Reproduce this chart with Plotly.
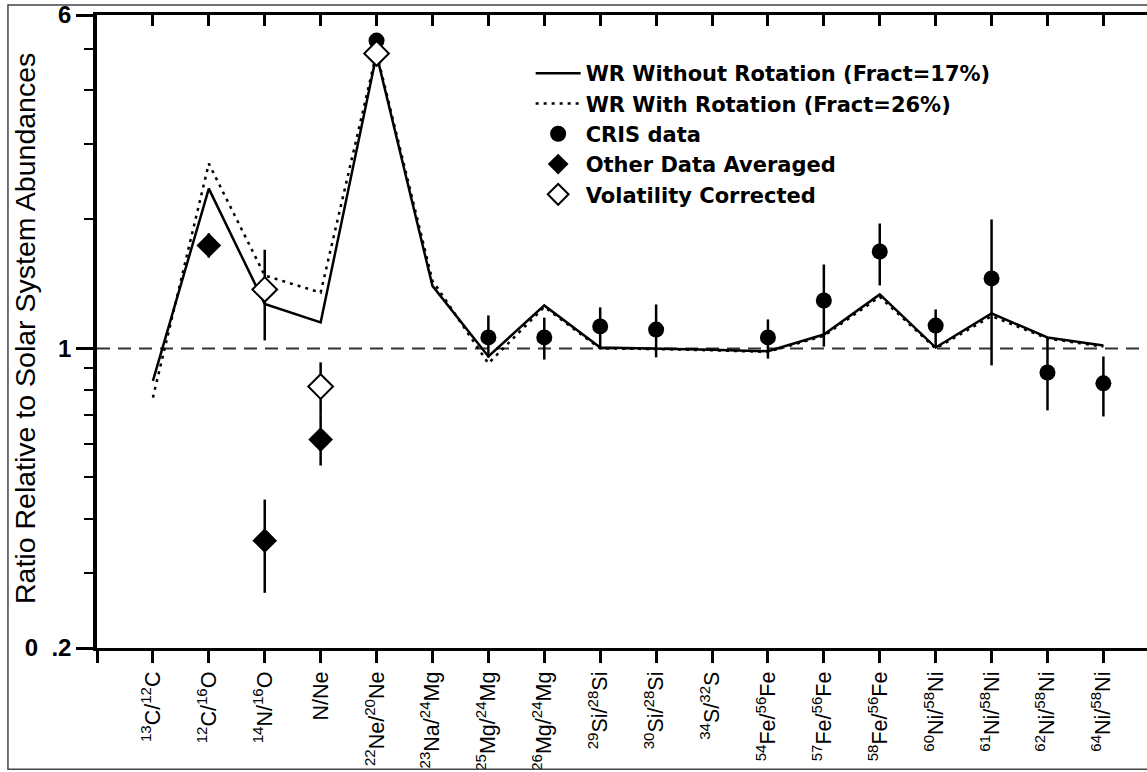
import math
import plotly.graph_objects as go

# ---------------- data ----------------
categories = [
    "<sup>13</sup>C/<sup>12</sup>C",
    "<sup>12</sup>C/<sup>16</sup>O",
    "<sup>14</sup>N/<sup>16</sup>O",
    "N/Ne",
    "<sup>22</sup>Ne/<sup>20</sup>Ne",
    "<sup>23</sup>Na/<sup>24</sup>Mg",
    "<sup>25</sup>Mg/<sup>24</sup>Mg",
    "<sup>26</sup>Mg/<sup>24</sup>Mg",
    "<sup>29</sup>Si/<sup>28</sup>Si",
    "<sup>30</sup>Si/<sup>28</sup>Si",
    "<sup>34</sup>S/<sup>32</sup>S",
    "<sup>54</sup>Fe/<sup>56</sup>Fe",
    "<sup>57</sup>Fe/<sup>56</sup>Fe",
    "<sup>58</sup>Fe/<sup>56</sup>Fe",
    "<sup>60</sup>Ni/<sup>58</sup>Ni",
    "<sup>61</sup>Ni/<sup>58</sup>Ni",
    "<sup>62</sup>Ni/<sup>58</sup>Ni",
    "<sup>64</sup>Ni/<sup>58</sup>Ni",
]
positions = list(range(1, len(categories) + 1))

wr_without_rotation = [0.84, 2.36, 1.27, 1.15, 4.85, 1.40, 0.958, 1.26, 1.005, 1.0,
                       0.993, 0.985, 1.078, 1.337, 1.005, 1.207, 1.061, 1.016]
wr_with_rotation = [0.768, 2.70, 1.48, 1.35, 4.90, 1.44, 0.923, 1.25, 1.0, 0.997,
                    0.99, 0.982, 1.07, 1.32, 1.0, 1.19, 1.055, 1.01]

cris_value = [None, None, None, None, 5.23, None, 1.061, 1.061, 1.126, 1.107,
              None, 1.061, 1.294, 1.684, 1.131, 1.457, 0.879, 0.829]
cris_upper = [None, None, None, None, 5.23, None, 1.194, 1.18, 1.247, 1.267,
              None, 1.169, 1.57, 1.957, 1.233, 2.0, 1.061, 0.958]
cris_lower = [None, None, None, None, 5.23, None, 0.953, 0.942, 1.005, 0.953,
              None, 0.947, 1.01, 1.403, 1.005, 0.913, 0.717, 0.694]

other_value = [None, 1.74, 0.356, 0.613] + [None] * 14
other_upper = [None, 1.856, 0.444, 0.70] + [None] * 14
other_lower = [None, 1.63, 0.269, 0.533] + [None] * 14

volat_value = [None, None, 1.373, 0.815, 4.88] + [None] * 13
volat_upper = [None, None, 1.70, 0.928, 4.88] + [None] * 13
volat_lower = [None, None, 1.044, 0.70, 4.88] + [None] * 13

y_tick_values = [0.2, 1, 6]
y_tick_labels = ["0\u00a0\u00a0.2", "1", "6"]
y_minor_values = [0.3, 0.4, 0.5, 0.6, 0.7, 0.8, 0.9, 2, 3, 4, 5]
reference_ratio = 1.0


def plus(v, u):
    return [(b - a) if a is not None else None for a, b in zip(v, u)]


def minus(v, l):
    return [(a - b) if a is not None else None for a, b in zip(v, l)]


FONT = "Liberation Sans, Arial, sans-serif"
LEGEND_FONT = "DejaVu Sans, Liberation Sans, sans-serif"

fig = go.Figure()

fig.add_trace(go.Scatter(
    x=positions, y=wr_without_rotation, mode="lines",
    name="WR Without Rotation (Fract=17%)",
    line=dict(color="black", width=2.5),
))
fig.add_trace(go.Scatter(
    x=positions, y=wr_with_rotation, mode="lines",
    name="WR With Rotation (Fract=26%)",
    line=dict(color="black", width=2.5, dash="3px,5px"),
))
fig.add_trace(go.Scatter(
    x=positions, y=cris_value, mode="markers", name="CRIS data",
    marker=dict(symbol="circle", size=16, color="black"),
    error_y=dict(type="data", array=plus(cris_value, cris_upper),
                 arrayminus=minus(cris_value, cris_lower),
                 color="black", thickness=2.5, width=0),
))
fig.add_trace(go.Scatter(
    x=positions, y=other_value, mode="markers", name="Other Data Averaged",
    marker=dict(symbol="diamond", size=19, color="black"),
    error_y=dict(type="data", array=plus(other_value, other_upper),
                 arrayminus=minus(other_value, other_lower),
                 color="black", thickness=2.5, width=0),
))
fig.add_trace(go.Scatter(
    x=positions, y=volat_value, mode="markers", name="Volatility Corrected",
    marker=dict(symbol="diamond", size=19, color="white",
                line=dict(color="black", width=2)),
    error_y=dict(type="data", array=plus(volat_value, volat_upper),
                 arrayminus=minus(volat_value, volat_lower),
                 color="black", thickness=2.5, width=0),
))
# empty trace to host the top axis
fig.add_trace(go.Scatter(x=[], y=[], xaxis="x2", showlegend=False, hoverinfo="skip"))

x_range = [0, 18.78]

fig.update_layout(
    width=1147, height=772,
    margin=dict(l=97, r=0, t=15, b=124, autoexpand=False),
    paper_bgcolor="white", plot_bgcolor="white",
    font=dict(family=FONT, color="black"),
    showlegend=True,
    legend=dict(
        x=0.413, y=0.94, xanchor="left", yanchor="top",
        bgcolor="rgba(0,0,0,0)", borderwidth=0,
        font=dict(family=LEGEND_FONT, size=21, color="black", weight="bold"),
        itemwidth=45, tracegroupgap=0,
    ),
    xaxis=dict(
        range=x_range, tickmode="array", automargin=False,
        tickvals=[0] + positions, ticktext=[""] + categories,
        tickangle=-90, ticks="outside", ticklen=12, tickwidth=3,
        tickcolor="black", showline=True, linewidth=3, linecolor="black",
        showgrid=False, zeroline=False,
        tickfont=dict(family=FONT, size=21.5, color="black"),
    ),
    xaxis2=dict(
        range=x_range, overlaying="x", side="top", anchor="y", automargin=False,
        tickmode="array", tickvals=positions, ticks="inside", ticklen=11,
        tickwidth=3, tickcolor="black", showticklabels=False,
        showline=True, linewidth=2.5, linecolor="black",
        showgrid=False, zeroline=False,
    ),
    yaxis=dict(
        type="log", range=[math.log10(0.2), math.log10(6)], automargin=False,
        tickmode="array", tickvals=y_tick_values, ticktext=y_tick_labels,
        ticks="outside", ticklen=17, tickwidth=2.5, tickcolor="black",
        showline=True, linewidth=3.5, linecolor="black",
        showgrid=False, zeroline=False,
        tickfont=dict(family=FONT, size=24, color="black", weight="bold"),
        minor=dict(tickmode="array", tickvals=y_minor_values, ticks="outside",
                   ticklen=9, tickwidth=2, tickcolor="black", showgrid=False),
    ),
)

fig.add_shape(type="line", xref="paper", x0=0, x1=1, yref="y",
              y0=reference_ratio, y1=reference_ratio, layer="below",
              line=dict(color="#333333", width=2, dash="13px,8px"))

fig.add_shape(type="rect", xref="paper", yref="paper",
              x0=-0.0848, x1=1.004, y0=-0.1915, y1=1.0158,
              line=dict(color="#444444", width=1.5))

fig.add_annotation(
    text="Ratio Relative to Solar System Abundances",
    xref="paper", yref="paper", x=-0.0686, y=0.5055,
    xanchor="center", yanchor="middle", textangle=-90, showarrow=False,
    font=dict(family=FONT, size=28.5, color="black"),
)

fig.write_html("out.html")
